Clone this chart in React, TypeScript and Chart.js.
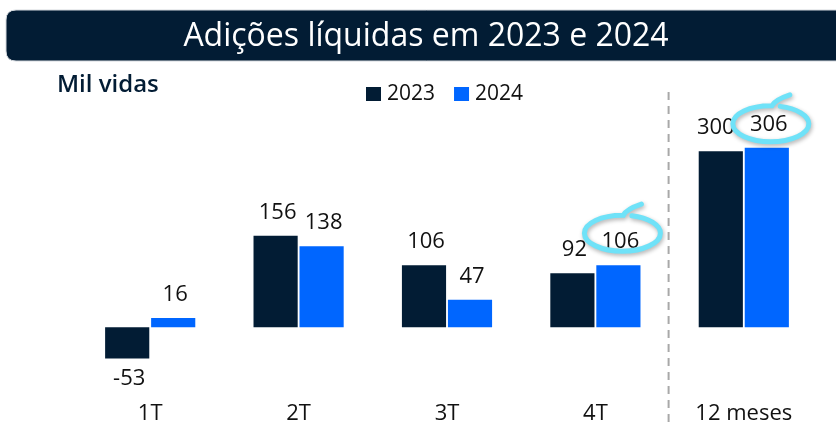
import React, { useEffect, useRef } from "react";
import { Chart, registerables } from "chart.js";

Chart.register(...registerables);

const TITLE = "Adições líquidas em 2023 e 2024";
const UNIT_LABEL = "Mil vidas";
const CATEGORIES = ["1T", "2T", "3T", "4T", "12 meses"];
const SERIES_LABELS = ["2023", "2024"];
const VALUES_2023 = [-53, 156, 106, 92, 300];
const VALUES_2024 = [16, 138, 47, 106, 306];
const HIGHLIGHTED_2024 = [3, 4];
const Y_MIN = -100;
const Y_MAX = 350;

const DARK = "#021c34";
const BLUE = "#0066ff";
const CYAN = "#6fe2f8";
const FONT = "'Open Sans', 'Noto Sans', sans-serif";

const decorPlugin = {
  id: "decor",
  beforeDraw(chart: any) {
    const ctx = chart.ctx;
    const W = chart.width;
    ctx.save();
    ctx.fillStyle = "#ffffff";
    ctx.fillRect(0, 0, W, chart.height);

    // banner
    const bx = 6, by = 10, bh = 51, r = 10;
    ctx.beginPath();
    ctx.moveTo(bx + r, by);
    ctx.lineTo(W + 5, by);
    ctx.lineTo(W + 5, by + bh);
    ctx.lineTo(bx + r, by + bh);
    ctx.quadraticCurveTo(bx, by + bh, bx, by + bh - r);
    ctx.lineTo(bx, by + r);
    ctx.quadraticCurveTo(bx, by, bx + r, by);
    ctx.closePath();
    ctx.fillStyle = DARK;
    ctx.fill();
    ctx.strokeStyle = "#d4d8dd";
    ctx.lineWidth = 1;
    ctx.stroke();

    ctx.fillStyle = "#ffffff";
    ctx.font = `500 32px ${FONT}`;
    ctx.textAlign = "center";
    ctx.textBaseline = "alphabetic";
    ctx.fillText(TITLE, 426, 46);

    // unit label
    ctx.fillStyle = DARK;
    ctx.font = `600 24px ${FONT}`;
    ctx.textAlign = "left";
    ctx.fillText(UNIT_LABEL, 57, 92);

    // legend
    ctx.font = `21px ${FONT}`;
    let lx = 366;
    chart.data.datasets.forEach((ds: any) => {
      ctx.fillStyle = ds.backgroundColor;
      ctx.fillRect(lx, 87, 15, 14);
      ctx.fillStyle = "#111111";
      ctx.fillText(ds.label, lx + 21, 100);
      lx += 21 + ctx.measureText(ds.label).width + 19;
    });
    ctx.restore();
  },
  afterDatasetsDraw(chart: any) {
    const ctx = chart.ctx;
    const xs = chart.scales.x;
    ctx.save();

    // dashed separator
    const sx = (xs.getPixelForValue(3) + xs.getPixelForValue(4)) / 2 - 1;
    ctx.strokeStyle = "#a8a8a8";
    ctx.lineWidth = 2;
    ctx.setLineDash([8, 6]);
    ctx.beginPath();
    ctx.moveTo(sx, 92);
    ctx.lineTo(sx, chart.height);
    ctx.stroke();
    ctx.setLineDash([]);

    // value labels
    ctx.font = `22px ${FONT}`;
    ctx.fillStyle = "#111111";
    ctx.textAlign = "center";
    ctx.textBaseline = "alphabetic";
    chart.data.datasets.forEach((ds: any, di: number) => {
      const meta = chart.getDatasetMeta(di);
      meta.data.forEach((bar: any, i: number) => {
        const v = ds.data[i];
        const y = v >= 0 ? bar.y - 17 : bar.y + 27;
        const shift = di === 0 && i === CATEGORIES.length - 1 ? -5 : 2;
        ctx.fillText(String(v), bar.x + shift, y);
      });
    });

    // highlight ellipses
    const meta2 = chart.getDatasetMeta(1);
    HIGHLIGHTED_2024.forEach((i, k) => {
      const bar = meta2.data[i];
      const cx = bar.x + 4;
      const cy = bar.y - (k === 0 ? 32 : 24);
      const rx = 38, ry = 18;
      ctx.save();
      ctx.strokeStyle = CYAN;
      ctx.lineWidth = 5;
      ctx.lineCap = "round";
      ctx.shadowColor = "rgba(0,0,0,0.3)";
      ctx.shadowBlur = 4;
      ctx.shadowOffsetX = 1;
      ctx.shadowOffsetY = 2;
      ctx.beginPath();
      ctx.moveTo(cx + 19, cy - ry - 11);
      ctx.quadraticCurveTo(cx + 4, cy - ry - 6, cx + 1, cy - ry);
      ctx.ellipse(cx, cy, rx, ry, 0, -Math.PI / 2, -Math.PI / 2 - 1.92 * Math.PI, true);
      ctx.stroke();
      ctx.restore();
    });
    ctx.restore();
  },
};

export default function App() {
  const ref = useRef<HTMLCanvasElement | null>(null);
  useEffect(() => {
    if (!ref.current) return;
    const chart = new Chart(ref.current, {
      type: "bar",
      data: {
        labels: CATEGORIES,
        datasets: [
          { label: SERIES_LABELS[0], data: VALUES_2023, backgroundColor: DARK },
          { label: SERIES_LABELS[1], data: VALUES_2024, backgroundColor: BLUE },
        ],
      },
      options: {
        animation: false,
        responsive: true,
        maintainAspectRatio: false,
        layout: { padding: { top: 122, left: 76, right: 18, bottom: 0 } },
        datasets: { bar: { categoryPercentage: 0.62, barPercentage: 0.96 } },
        plugins: { legend: { display: false }, tooltip: { enabled: false }, title: { display: false } },
        scales: {
          x: {
            grid: { display: false, drawTicks: false },
            border: { display: false },
            ticks: { color: "#111111", font: { family: FONT, size: 22 }, padding: 15 },
            afterFit: (s: any) => { s.height = 37; },
          },
          y: { display: false, min: Y_MIN, max: Y_MAX },
        },
      },
      plugins: [decorPlugin],
    } as any);
    return () => chart.destroy();
  }, []);
  return (
    <div style={{ position: "fixed", left: 0, top: 0, width: 836, height: 423, background: "#fff" }}>
      <canvas ref={ref} />
    </div>
  );
}
